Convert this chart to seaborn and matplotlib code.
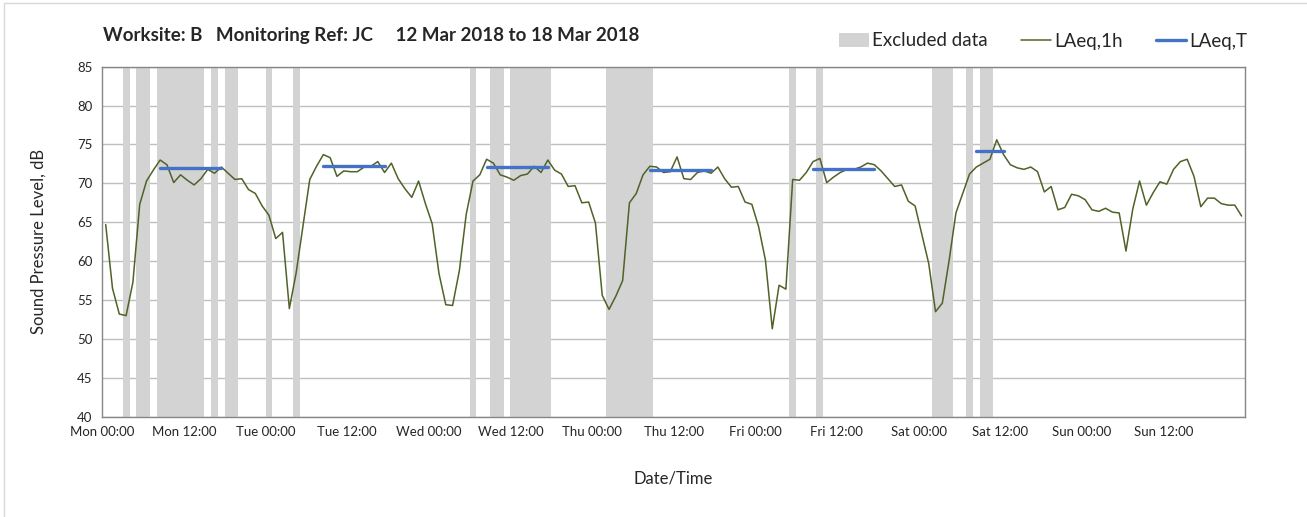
import numpy as np
import pandas as pd
import seaborn as sns
import matplotlib.pyplot as plt
from matplotlib.patches import Patch
from matplotlib.lines import Line2D
from matplotlib.ticker import MultipleLocator

# hourly LAeq,1h values, Mon 00:00 -> Sun 23:00 (one per hour)
laeq_1h = [
    64.7, 56.5, 53.2, 53.0, 57.3, 67.3, 70.3, 71.7, 73.0, 72.4,
    70.1, 71.1, 70.4, 69.8, 70.6, 71.8, 71.3, 72.1, 71.3, 70.5,
    70.6, 69.2, 68.7, 67.1, 65.9, 62.9, 63.7, 53.9, 58.5, 64.5,
    70.5, 72.2, 73.7, 73.3, 70.9, 71.6, 71.5, 71.5, 72.1, 72.2,
    72.8, 71.4, 72.6, 70.6, 69.3, 68.2, 70.3, 67.4,
    64.8, 58.4, 54.4, 54.3, 58.8, 66.0, 70.3, 71.1, 73.1, 72.6,
    71.1, 70.8, 70.4, 71.0, 71.2, 72.2, 71.4, 73.0, 71.7, 71.2,
    69.6, 69.7, 67.5, 67.6, 64.9, 55.6, 53.8, 55.5, 57.5, 67.5,
    68.7, 71.1, 72.2, 72.1, 71.4, 71.5, 73.4, 70.6, 70.5, 71.4,
    71.6, 71.3, 72.1, 70.6, 69.5, 69.6, 67.6, 67.3, 64.4, 60.1,
    51.3, 56.9, 56.4, 70.5, 70.4, 71.4, 72.8, 73.2, 70.1, 70.8,
    71.4, 71.8, 71.8, 72.1, 72.6, 72.4, 71.6, 70.6, 69.6, 69.8,
    67.7, 67.1, 63.4, 59.7, 53.5, 54.6, 60.1, 66.2, 68.7, 71.2,
    72.1, 72.6, 73.1, 75.6, 73.7, 72.4, 72.0, 71.8, 72.1, 71.5,
    68.9, 69.6, 66.6, 66.9, 68.6, 68.4, 67.9, 66.6, 66.4, 66.8,
    66.3, 66.2, 61.3, 66.7, 70.3, 67.2, 68.8, 70.2, 69.9, 71.8,
    72.8, 73.1, 70.9, 67.0, 68.1, 68.1, 67.4, 67.2, 67.2, 65.8,
]

# excluded data periods (hours from Mon 00:00)
excl_start = [3, 5, 8, 16, 18, 24, 28, 54, 57, 60, 74, 101, 105, 122, 127, 129]
excl_end = [4, 7, 15, 17, 20, 25, 29, 55, 59, 66, 81, 102, 106, 125, 128, 131]

# LAeq,T assessment periods
t_start = [8, 32, 56, 80, 104, 128]
t_end = [18, 42, 66, 90, 114, 133]
t_level = [72.0, 72.2, 72.1, 71.7, 71.8, 74.1]

tick_labels = ['Mon 00:00', 'Mon 12:00', 'Tue 00:00', 'Tue 12:00', 'Wed 00:00',
               'Wed 12:00', 'Thu 00:00', 'Thu 12:00', 'Fri 00:00', 'Fri 12:00',
               'Sat 00:00', 'Sat 12:00', 'Sun 00:00', 'Sun 12:00', '']

sns.set_style("white")
plt.rcParams['font.family'] = ['Lato', 'DejaVu Sans']

green = '#4F6228'
blue = '#4472C4'
grey = '#D3D3D3'

hourly = pd.DataFrame({'hour': np.arange(len(laeq_1h)) + 0.5, 'level': laeq_1h})
rows = []
for i, (s, e, v) in enumerate(zip(t_start, t_end, t_level)):
    for h in range(s, e):
        rows.append({'hour': h + 0.5, 'level': v, 'period': i})
periods = pd.DataFrame(rows)

fig = plt.figure(figsize=(13.07, 5.17), dpi=100)
ax = fig.add_axes([102.3 / 1307, 1 - 416.7 / 517, 1142.7 / 1307, 350 / 517])

for s, e in zip(excl_start, excl_end):
    ax.axvspan(s, e, color=grey, lw=0, zorder=1)

sns.lineplot(data=hourly, x='hour', y='level', color=green, lw=1.1, ax=ax, zorder=3)
sns.lineplot(data=periods, x='hour', y='level', units='period', estimator=None,
             color=blue, lw=2.4, ax=ax, zorder=4)

ax.set_xlim(0, 168)
ax.set_ylim(40, 85)
ax.set_yticks(range(40, 90, 5))
ax.set_xticks(range(0, 169, 12))
ax.set_xticklabels(tick_labels)
ax.xaxis.set_minor_locator(MultipleLocator(24))
ax.grid(axis='y', which='major', color='#BFBFBF', lw=1, zorder=0)
ax.grid(axis='x', which='minor', color='#D9D9D9', lw=1, zorder=0)
ax.set_axisbelow(True)
ax.tick_params(axis='both', which='major', direction='out', length=4, width=1,
               color='#868686', labelsize=9.5, pad=3)
ax.tick_params(axis='x', which='minor', length=0)
for sp in ax.spines.values():
    sp.set_color('#868686')
    sp.set_linewidth(1)

ax.set_xlabel('Date/Time', fontsize=12)
ax.set_ylabel('Sound Pressure Level, dB', fontsize=12)
ax.xaxis.set_label_coords(0.5, -0.155)
ax.yaxis.set_label_coords(-0.049, 0.5)

fig.text(103 / 1307, 1 - 36 / 517,
         'Worksite: B   Monitoring Ref: JC     12 Mar 2018 to 18 Mar 2018',
         fontsize=13.5, fontweight='bold', va='center', ha='left')

handles = [Patch(color=grey, lw=0), Line2D([], [], color=green, lw=1.1),
           Line2D([], [], color=blue, lw=2.4)]
fig.legend(handles, ['Excluded data', 'LAeq,1h', 'LAeq,T'], ncol=3,
           loc='center right', bbox_to_anchor=(1247 / 1307, 1 - 41 / 517),
           frameon=False, fontsize=13.5, handlelength=1.6, handletextpad=0.15,
           columnspacing=1.8, borderpad=0, borderaxespad=0)

# chart-area border
fig.add_artist(Line2D([4 / 1307, 1], [1 - 2.5 / 517] * 2, color='#D9D9D9', lw=1))
fig.add_artist(Line2D([4 / 1307] * 2, [0, 1 - 2.5 / 517], color='#D9D9D9', lw=1))

fig.savefig('out.png', dpi=100)
